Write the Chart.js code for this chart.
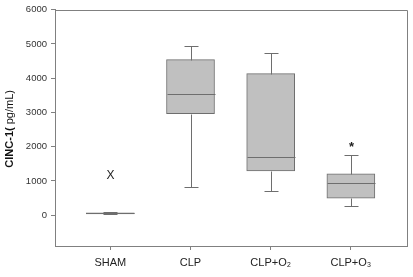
<!DOCTYPE html>
<html>
<head>
<meta charset="utf-8">
<script src="https://cdn.jsdelivr.net/npm/chart.js@4"></script>
<style>
  html, body { margin: 0; padding: 0; background: #fff; }
  #wrap { width: 413px; height: 277px; }
</style>
</head>
<body>
<div id="wrap"><canvas id="chart"></canvas></div>
<script>
// box plot values (pg/mL)
const groups = ['SHAM', 'CLP', 'CLP+O\u2082', 'CLP+O\u2083'];
const whiskerLow = [20, 830, 700, 280];
const q1 = [35, 2965, 1295, 495];
const median = [50, 3545, 1710, 950];
const q3 = [65, 4540, 4135, 1210];
const whiskerHigh = [85, 4950, 4745, 1750];
// significance marks above the boxes
const markText = ['X', '', '', '*'];
const markValue = [1160, null, null, 2080];
const yTicks = [0, 1000, 2000, 3000, 4000, 5000, 6000];

const boxColor = '#c0c0c0';
const edgeColor = '#6e6e6e';
const axisColor = '#808080';

// whiskers, medians, caps, frame and the marks
const boxExtras = {
    id: 'boxExtras',
    afterDatasetsDraw(chart) {
        const ctx = chart.ctx;
        const x = chart.scales.x, y = chart.scales.y;
        const area = chart.chartArea;
        ctx.save();
        ctx.strokeStyle = edgeColor;
        ctx.lineWidth = 1;
        groups.forEach((g, i) => {
            const cx = Math.round(x.getPixelForValue(i)) + 0.5;
            const half = 24, cap = 7;
            const px = v => Math.round(y.getPixelForValue(v)) + 0.5;
            ctx.beginPath();
            // whiskers
            ctx.moveTo(cx, px(q3[i])); ctx.lineTo(cx, px(whiskerHigh[i]));
            ctx.moveTo(cx, px(q1[i])); ctx.lineTo(cx, px(whiskerLow[i]));
            // caps
            ctx.moveTo(cx - cap, px(whiskerHigh[i])); ctx.lineTo(cx + cap, px(whiskerHigh[i]));
            ctx.moveTo(cx - cap, px(whiskerLow[i])); ctx.lineTo(cx + cap, px(whiskerLow[i]));
            // median
            ctx.moveTo(cx - half, px(median[i])); ctx.lineTo(cx + half, px(median[i]));
            ctx.stroke();
            if (markText[i]) {
                ctx.fillStyle = '#222';
                ctx.font = markText[i] === '*' ? 'bold 13px "Liberation Sans"' : '12px "Liberation Sans"';
                ctx.textAlign = 'center';
                ctx.textBaseline = 'middle';
                const off = markText[i] === '*' ? 3 : 0;
                ctx.fillText(markText[i], cx, y.getPixelForValue(markValue[i]) + off);
            }
        });
        // top and right sides of the frame
        ctx.strokeStyle = axisColor;
        ctx.beginPath();
        ctx.moveTo(Math.round(area.left) + 0.5, Math.round(area.top) + 0.5);
        ctx.lineTo(Math.round(area.right) + 0.5, Math.round(area.top) + 0.5);
        ctx.lineTo(Math.round(area.right) + 0.5, Math.round(area.bottom) + 0.5);
        ctx.stroke();
        // y title: bold name, regular units
        ctx.translate(10, (area.top + area.bottom) / 2 + 1);
        ctx.rotate(-Math.PI / 2);
        ctx.fillStyle = '#111';
        ctx.textBaseline = 'middle';
        const boldPart = 'CINC-1(';
        const normPart = ' pg/mL)';
        ctx.font = 'bold 11px "Liberation Sans"';
        const w1 = ctx.measureText(boldPart).width;
        ctx.font = '11px "Liberation Sans"';
        const w2 = ctx.measureText(normPart).width;
        ctx.textAlign = 'left';
        ctx.font = 'bold 11px "Liberation Sans"';
        ctx.fillText(boldPart, -(w1 + w2) / 2, 0);
        ctx.font = '11px "Liberation Sans"';
        ctx.fillText(normPart, -(w1 + w2) / 2 + w1, 0);
        ctx.restore();
    }
};

new Chart(document.getElementById('chart'), {
    type: 'bar',
    data: {
        datasets: [{
            data: groups.map((g, i) => ({ x: i, y: [q1[i], q3[i]] })),
            backgroundColor: boxColor,
            borderColor: edgeColor,
            borderWidth: 1,
            borderSkipped: false,
            barThickness: 48
        }]
    },
    options: {
        responsive: true,
        maintainAspectRatio: false,
        animation: false,
        layout: { padding: { top: 8, right: 6, left: 0, bottom: 0 } },
        plugins: {
            legend: { display: false },
            tooltip: { enabled: false }
        },
        scales: {
            x: {
                type: 'linear',
                offset: false,
                min: -0.69,
                max: 3.7,
                afterBuildTicks: s => { s.ticks = groups.map((g, i) => ({ value: i })); },
                afterFit: s => { s.height = 31; },
                grid: { drawOnChartArea: false, offset: false, tickLength: 4, color: axisColor },
                border: { color: axisColor },
                ticks: {
                    callback: v => groups[v],
                    color: '#222',
                    padding: 6,
                    maxRotation: 0,
                    font: { family: 'Liberation Sans', size: 11 }
                }
            },
            y: {
                min: -900,
                max: 6000,
                afterBuildTicks: s => { s.ticks = yTicks.map(v => ({ value: v })); },
                afterFit: s => { s.width = 55; },
                grid: { drawOnChartArea: false, tickLength: 4, color: axisColor },
                border: { color: axisColor },
                ticks: {
                    callback: v => String(v),
                    color: '#333',
                    padding: 4,
                    font: { family: 'Liberation Sans', size: 9.5 }
                }
            }
        }
    },
    plugins: [boxExtras]
});
</script>
</body>
</html>
